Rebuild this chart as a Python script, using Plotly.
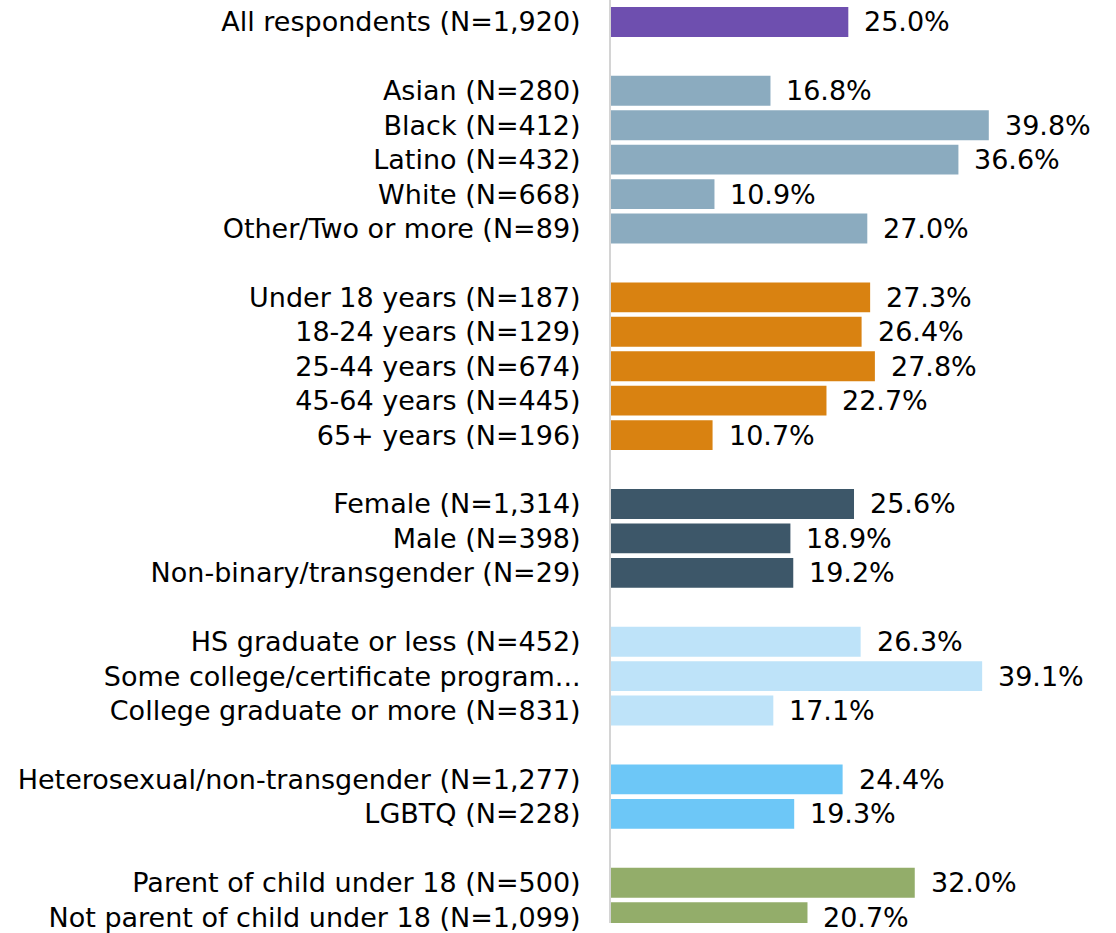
import plotly.graph_objects as go

labels = [
    "All respondents (N=1,920)",
    "Asian (N=280)", "Black (N=412)", "Latino (N=432)", "White (N=668)",
    "Other/Two or more (N=89)",
    "Under 18 years (N=187)", "18-24 years (N=129)", "25-44 years (N=674)",
    "45-64 years (N=445)", "65+ years (N=196)",
    "Female (N=1,314)", "Male (N=398)", "Non-binary/transgender (N=29)",
    "HS graduate or less (N=452)", "Some college/certificate program...",
    "College graduate or more (N=831)",
    "Heterosexual/non-transgender (N=1,277)", "LGBTQ (N=228)",
    "Parent of child under 18 (N=500)", "Not parent of child under 18 (N=1,099)",
]
values = [25.0,
          16.8, 39.8, 36.6, 10.9, 27.0,
          27.3, 26.4, 27.8, 22.7, 10.7,
          25.6, 18.9, 19.2,
          26.3, 39.1, 17.1,
          24.4, 19.3,
          32.0, 20.7]
groups = [0, 1, 1, 1, 1, 1, 2, 2, 2, 2, 2, 3, 3, 3, 4, 4, 4, 5, 5, 6, 6]
group_colors = ["#6E4FAF", "#8BABBF", "#D98211", "#3D5769",
                "#BEE3F9", "#6DC7F7", "#93AD6A"]

# row positions: one blank row between groups
pos = []
row = 0
for i, g in enumerate(groups):
    if i > 0 and g != groups[i - 1]:
        row += 1
    pos.append(row)
    row += 1

colors = [group_colors[g] for g in groups]

fig = go.Figure()
fig.add_trace(go.Bar(
    x=values, y=pos, orientation="h",
    marker=dict(color=colors, line=dict(width=0)),
    width=0.868,
    hoverinfo="skip",
))

for v, p in zip(values, pos):
    fig.add_annotation(
        x=v, y=p, text=f"{v:.1f}%", showarrow=False,
        xanchor="left", yanchor="middle", xshift=14,
        font=dict(family="DejaVu Sans", size=27, color="#000000"),
    )

fig.update_layout(
    width=1116, height=933,
    margin=dict(l=611, r=0, t=0, b=0),
    plot_bgcolor="white", paper_bgcolor="white",
    showlegend=False,
    xaxis=dict(range=[0, 53.2], visible=False, fixedrange=True),
    yaxis=dict(
        range=[26.17, -0.637],
        tickvals=pos, ticktext=labels,
        showgrid=False, zeroline=False,
        showline=True, linecolor="#D4D4D4", linewidth=2,
        ticks="", ticklabelstandoff=23, ticklabeloverflow="allow",
        tickfont=dict(family="DejaVu Sans", size=27, color="#000000"),
    ),
)

fig.write_html("out.html", config={"displayModeBar": False},
               post_script="document.body.style.margin='0';")
